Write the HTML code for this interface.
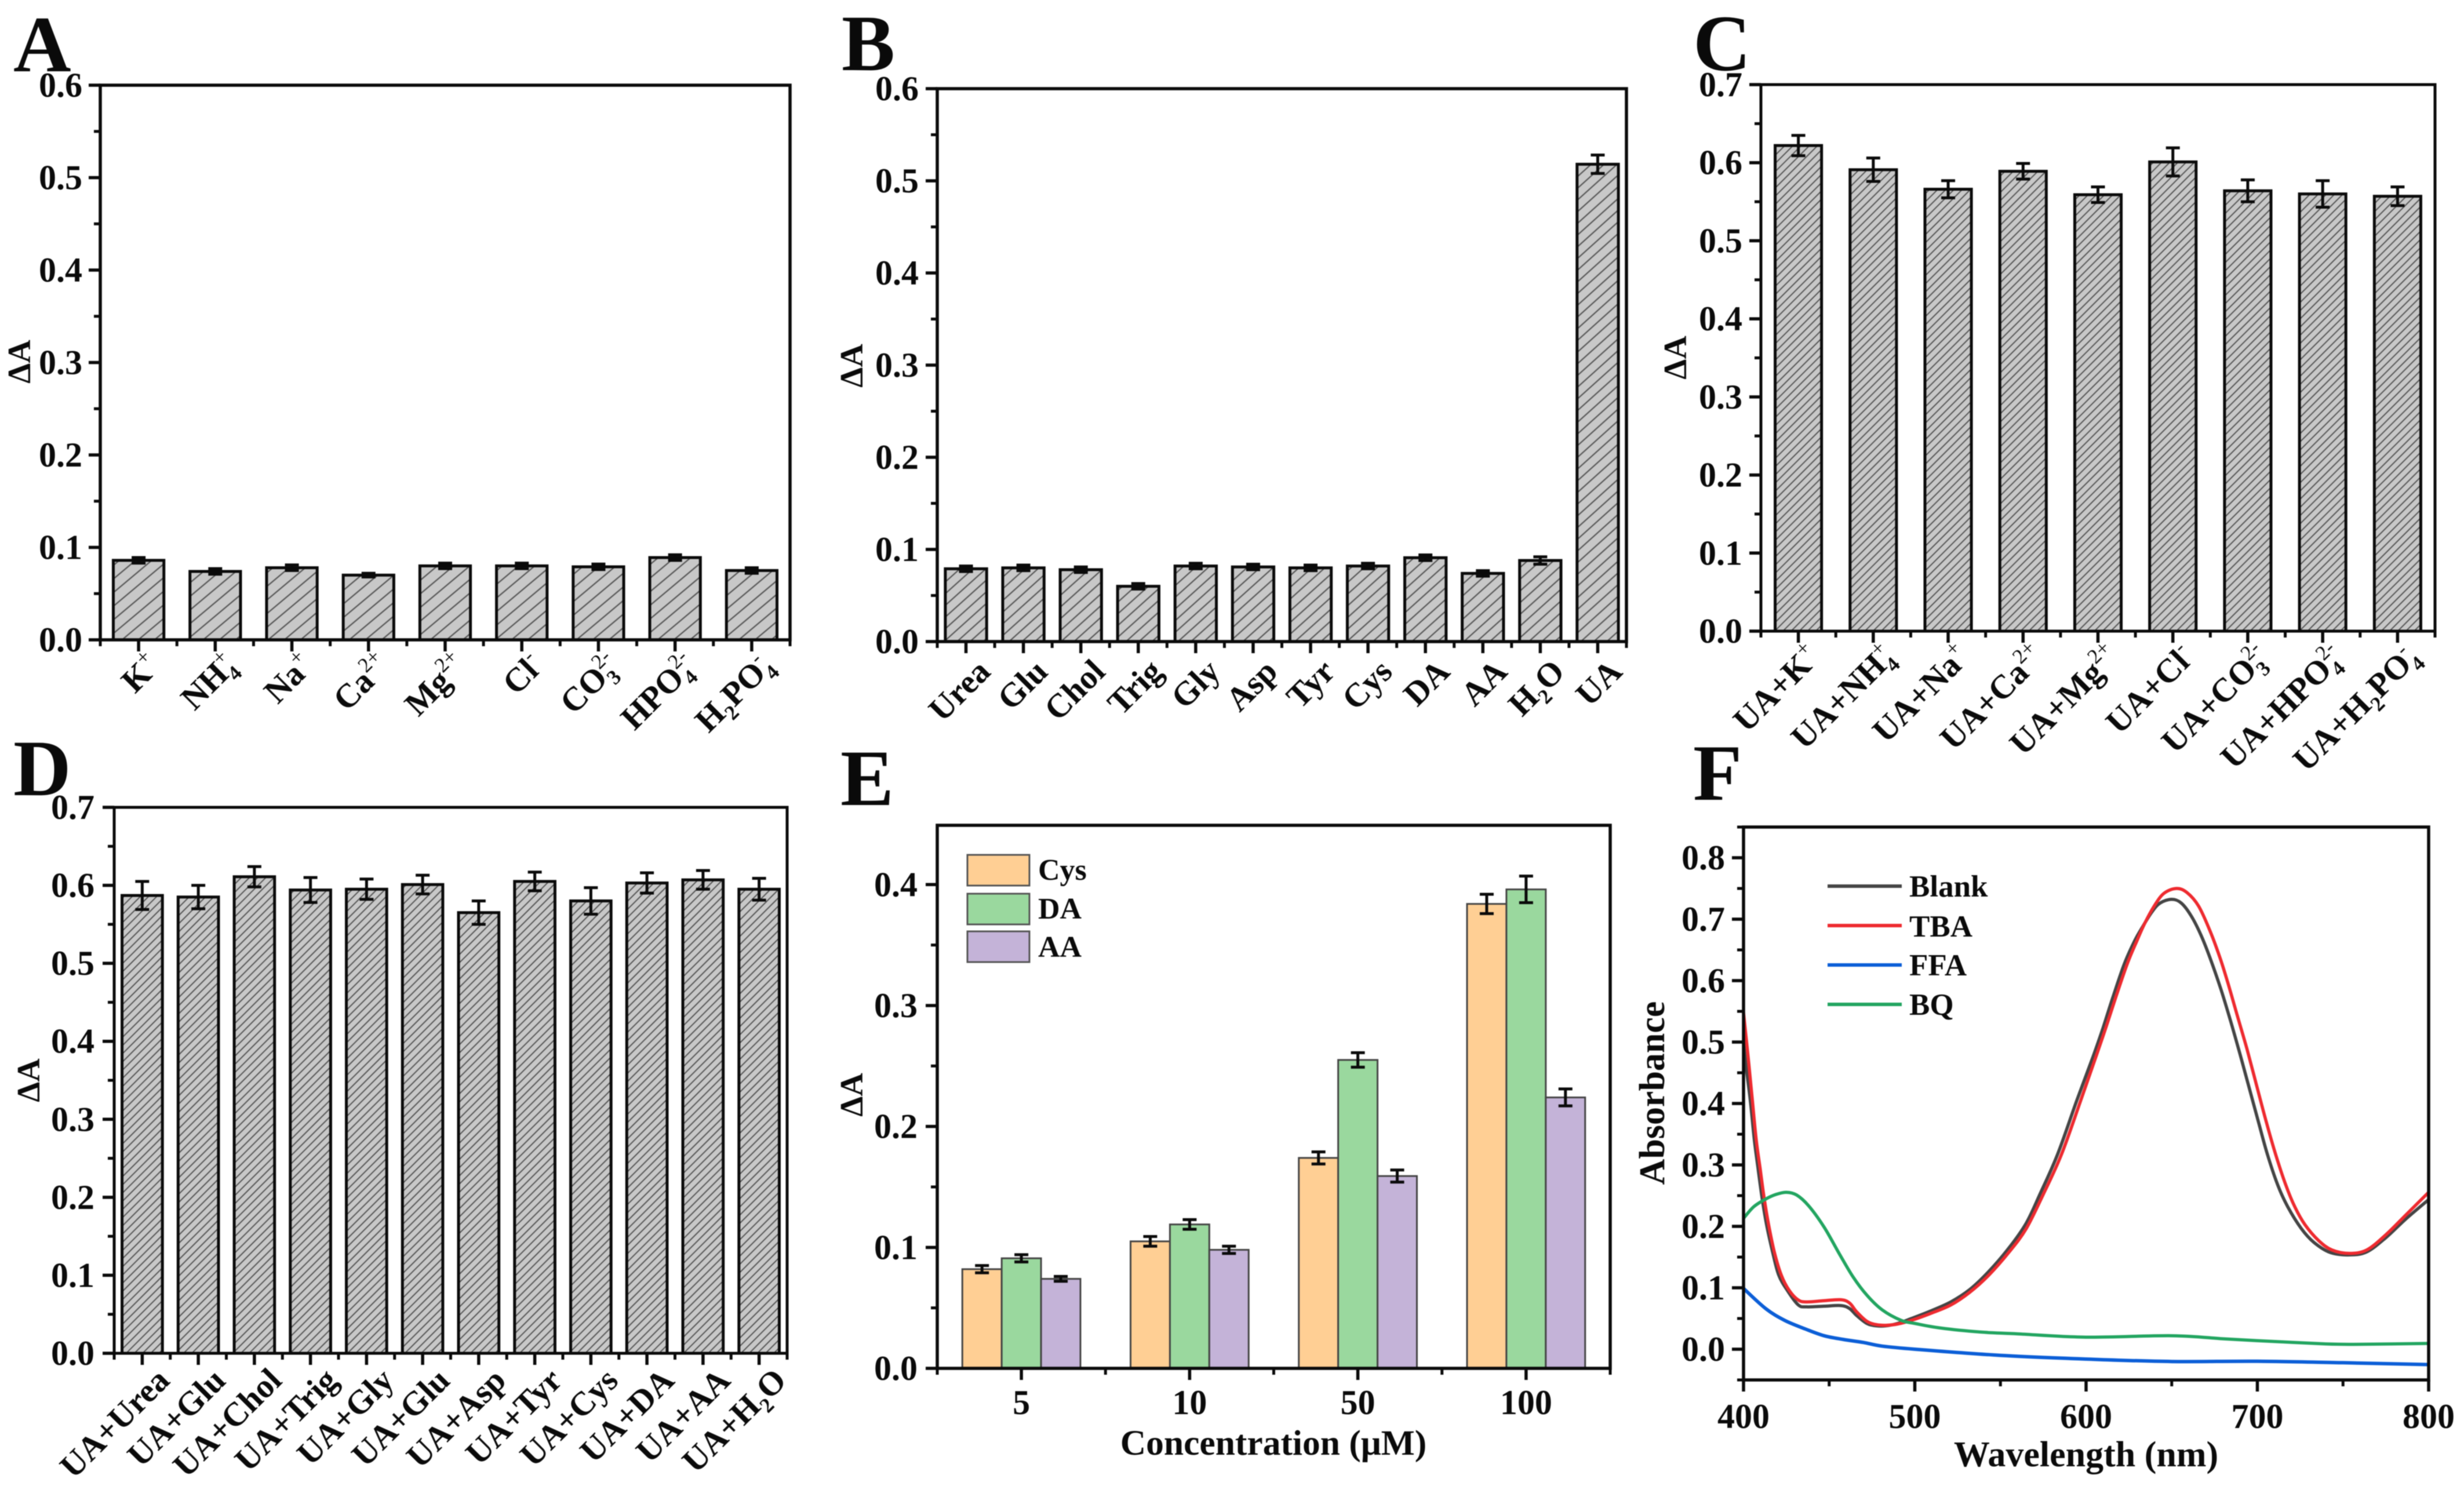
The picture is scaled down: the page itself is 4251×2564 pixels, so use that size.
<!DOCTYPE html>
<html lang="en">
<head>
<meta charset="utf-8">
<title>Selectivity and interference absorbance panels</title>
<style>
html,body{margin:0;padding:0;background:#fff;width:4251px;height:2564px;overflow:hidden}
svg{display:block;filter:blur(0.9px)}
text{font-family:"Liberation Serif",serif;font-weight:bold;fill:#0a0a0a}
</style>
</head>
<body>
<svg id="figure" xmlns="http://www.w3.org/2000/svg" width="4251" height="2564" viewBox="0 0 4251 2564">
<defs>
<pattern id="hatch-wide" patternUnits="userSpaceOnUse" width="18" height="18" patternTransform="rotate(-40)"><rect width="18" height="18" fill="#c8c8c8"/><line x1="0" y1="9" x2="18" y2="9" stroke="#555" stroke-width="2.2"/></pattern>
<pattern id="hatch-mid" patternUnits="userSpaceOnUse" width="15" height="15" patternTransform="rotate(-42)"><rect width="15" height="15" fill="#c8c8c8"/><line x1="0" y1="7.5" x2="15" y2="7.5" stroke="#555" stroke-width="2.2"/></pattern>
<pattern id="hatch-dense" patternUnits="userSpaceOnUse" width="10" height="10" patternTransform="rotate(-45)"><rect width="10" height="10" fill="#c8c8c8"/><line x1="0" y1="5" x2="10" y2="5" stroke="#555" stroke-width="2"/></pattern>
</defs>
<rect width="4251" height="2564" fill="#fff"/>

<text x="23" y="123" font-size="138">A</text>
<text x="1452" y="121" font-size="138">B</text>
<text x="2921" y="121" font-size="138">C</text>
<text x="23" y="1372" font-size="138">D</text>
<text x="1450" y="1389" font-size="138">E</text>
<text x="2921" y="1380" font-size="138">F</text>

<text font-size="56" text-anchor="middle" transform="translate(52 624) rotate(-90)">ΔA</text>
<text font-size="56" text-anchor="middle" transform="translate(1488 631) rotate(-90)">ΔA</text>
<text font-size="56" text-anchor="middle" transform="translate(2909 617) rotate(-90)">ΔA</text>
<text font-size="56" text-anchor="middle" transform="translate(68 1864) rotate(-90)">ΔA</text>
<text font-size="56" text-anchor="middle" transform="translate(1488 1889) rotate(-90)">ΔA</text>
<text font-size="62" text-anchor="middle" transform="translate(2871 1886) rotate(-90)">Absorbance</text>
<text font-size="61.5" text-anchor="middle" x="2197" y="2510">Concentration (μM)</text>
<text font-size="62" text-anchor="middle" x="3599" y="2530">Wavelength (nm)</text>

<g id="panel-a"></g>
<g id="panel-b"></g>
<g id="panel-c"></g>
<g id="panel-d"></g>
<g id="panel-e"></g>
<g id="panel-f"></g>

<g>
<g><rect x="1669" y="1475" width="107" height="53" fill="#FFCF94" stroke="#555" stroke-width="3"/><text x="1791" y="1518" font-size="52">Cys</text></g>
<g><rect x="1669" y="1542" width="107" height="53" fill="#9AD89E" stroke="#555" stroke-width="3"/><text x="1791" y="1585" font-size="52">DA</text></g>
<g><rect x="1669" y="1607" width="107" height="53" fill="#C4B3D8" stroke="#555" stroke-width="3"/><text x="1791" y="1651" font-size="52">AA</text></g>
</g>
<g>
<g><line x1="3153" x2="3281" y1="1529" y2="1529" stroke="#444" stroke-width="6"/><text x="3294" y="1547" font-size="53">Blank</text></g>
<g><line x1="3153" x2="3281" y1="1597" y2="1597" stroke="#EE2A2F" stroke-width="6"/><text x="3294" y="1616" font-size="53">TBA</text></g>
<g><line x1="3153" x2="3281" y1="1665" y2="1665" stroke="#0B5ED7" stroke-width="6"/><text x="3294" y="1683" font-size="53">FFA</text></g>
<g><line x1="3153" x2="3281" y1="1733" y2="1733" stroke="#22A560" stroke-width="6"/><text x="3294" y="1751" font-size="53">BQ</text></g>
</g>
</svg>

<script>
// Panel A
const ionLabels = ['K{|+}','NH{4|+}','Na{|+}','Ca{|2+}','Mg{|2+}','Cl{|-}','CO{3|2-}','HPO{4|2-}','H{2|}PO{4|-}'];
const aValues = [0.086,0.074,0.078,0.070,0.080,0.080,0.079,0.089,0.075];
const aErrors = [0.003,0.003,0.003,0.002,0.003,0.003,0.003,0.003,0.003];
const aTicks = [0,0.1,0.2,0.3,0.4,0.5,0.6];
// Panel B
const bioLabels = ['Urea','Glu','Chol','Trig','Gly','Asp','Tyr','Cys','DA','AA','H{2|}O','UA'];
const bValues = [0.079,0.080,0.078,0.060,0.082,0.081,0.080,0.082,0.091,0.074,0.088,0.518];
const bErrors = [0.003,0.003,0.003,0.003,0.003,0.003,0.003,0.003,0.003,0.003,0.004,0.010];
const bTicks = [0,0.1,0.2,0.3,0.4,0.5,0.6];
// Panel C
const uaIonLabels = ['UA+K{|+}','UA+NH{4|+}','UA+Na{|+}','UA+Ca{|2+}','UA+Mg{|2+}','UA+Cl{|-}','UA+CO{3|2-}','UA+HPO{4|2-}','UA+H{2|}PO{4|-}'];
const cValues = [0.622,0.591,0.566,0.589,0.559,0.601,0.564,0.560,0.557];
const cErrors = [0.013,0.015,0.011,0.010,0.010,0.018,0.014,0.017,0.012];
const cTicks = [0,0.1,0.2,0.3,0.4,0.5,0.6,0.7];
// Panel D
const uaBioLabels = ['UA+Urea','UA+Glu','UA+Chol','UA+Trig','UA+Gly','UA+Glu','UA+Asp','UA+Tyr','UA+Cys','UA+DA','UA+AA','UA+H{2|}O'];
const dValues = [0.587,0.585,0.611,0.594,0.595,0.601,0.565,0.605,0.580,0.603,0.607,0.595];
const dErrors = [0.018,0.015,0.013,0.016,0.013,0.012,0.015,0.012,0.017,0.013,0.012,0.014];
const dTicks = [0,0.1,0.2,0.3,0.4,0.5,0.6,0.7];
// Panel E
const concLabels = ['5','10','50','100'];
const cysValues = [0.082,0.105,0.174,0.384];
const cysErrors = [0.003,0.004,0.005,0.008];
const daValues = [0.091,0.119,0.255,0.396];
const daErrors = [0.003,0.004,0.006,0.011];
const aaValues = [0.074,0.098,0.159,0.224];
const aaErrors = [0.002,0.003,0.005,0.007];
const eTicks = [0,0.1,0.2,0.3,0.4];
// Panel F
const fXTicks = [400,500,600,700,800];
const fYTicks = [0,0.1,0.2,0.3,0.4,0.5,0.6,0.7,0.8];
const blankNm = [400,401.5,404,406.3,408.5,410.8,413.5,417,420.5,425.5,432,437,447,457,462,466,472,477.6,483,490,498,509,521,532,543,555,565,573,583.4,594.6,604.3,610,615.6,622.3,628.4,633.5,638.6,643.3,650,655.5,661.3,667,672.5,678.7,684.5,689.5,694.7,701,706,712,717.7,725.5,733,742.5,753.7,763.9,775.2,786.5,800];
const blankAbs = [0.5,0.46,0.404,0.341,0.294,0.2467,0.202,0.158,0.121,0.096,0.072,0.069,0.07,0.071,0.066,0.055,0.042,0.038,0.038,0.042,0.05,0.062,0.077,0.097,0.126,0.165,0.205,0.252,0.3175,0.405,0.478,0.524,0.5725,0.627,0.665,0.69,0.7125,0.7264,0.7324,0.7264,0.7057,0.6745,0.636,0.586,0.533,0.484,0.431,0.366,0.316,0.2665,0.232,0.197,0.174,0.1575,0.1535,0.1585,0.182,0.2115,0.2436];
const tbaNm = [400,403,405.2,407.4,409.7,412,414.7,418,422,426.6,432,437,447,457,462,466,472,477.6,483,490,498,509,521,532,543,555,565,575,585.7,596.9,606,611.6,617.3,624,629.7,634.2,639.8,645.4,652.8,658.9,665.7,672.5,678.2,682.6,688.3,694,699.6,705.2,710.9,716.5,722,727.8,735.7,743.5,753.7,763.9,775.2,786.5,800];
const tbaAbs = [0.548,0.467,0.404,0.341,0.294,0.2467,0.202,0.158,0.121,0.096,0.08,0.077,0.079,0.0806,0.075,0.061,0.0455,0.04,0.039,0.041,0.047,0.058,0.072,0.0925,0.12,0.158,0.196,0.252,0.3175,0.405,0.478,0.524,0.5725,0.627,0.665,0.693,0.7215,0.742,0.75,0.7434,0.7213,0.68,0.637,0.598,0.543,0.488,0.429,0.37,0.315,0.268,0.231,0.2027,0.177,0.1616,0.156,0.1616,0.1868,0.218,0.2555];
const ffaNm = [400,413,424,436,447,458,470,481,500,550,600,650,700,750,800];
const ffaAbs = [0.099,0.066,0.047,0.033,0.022,0.016,0.011,0.005,0,-0.01,-0.016,-0.02,-0.0196,-0.022,-0.025];
const bqNm = [400,406,413,419,425,431,438,447,456,464,472,481,492,500,515,538,560,600,650,680,700,740,760,800];
const bqAbs = [0.213,0.232,0.2445,0.252,0.2555,0.251,0.2335,0.199,0.155,0.1175,0.088,0.064,0.047,0.042,0.0345,0.028,0.025,0.0196,0.022,0.017,0.014,0.0086,0.008,0.0094];

const NS = 'http://www.w3.org/2000/svg';
function mk(tag, parent) {
  const el = document.createElementNS(NS, tag);
  parent.appendChild(el);
  return el;
}
function setAll(el, props) {
  for (const k in props) el.setAttribute(k, props[k]);
}
function seg(parent, x1, y1, x2, y2, w, color) {
  const l = mk('line', parent);
  setAll(l, {x1: x1, y1: y1, x2: x2, y2: y2, stroke: color || '#0a0a0a', 'stroke-width': w});
  return l;
}

function richLabel(t, label) {
  const re = /([^{]+)|\{([^|}]*)\|([^}]*)\}/g;
  let m, shift = 0;
  while ((m = re.exec(label))) {
    if (m[1]) {
      const s = mk('tspan', t);
      s.textContent = m[1];
      s.setAttribute('dy', -shift);
      shift = 0;
    } else {
      const sub = m[2], sup = m[3];
      if (sub) {
        const s = mk('tspan', t);
        s.textContent = sub;
        setAll(s, {'font-size': 36, dy: 14 - shift});
        shift = 14;
      }
      if (sup) {
        const s = mk('tspan', t);
        s.textContent = sup;
        setAll(s, {'font-size': 36, 'font-weight': 'normal', dy: -24 - shift});
        if (sub) s.setAttribute('dx', -18 * sub.length);
        shift = -24;
      }
    }
  }
}

function drawAxes(g, p) {
  const ys = p.yScale;
  const w = p.axisWidth;
  const frame = mk('rect', g);
  
  
  setAll(frame, {x: p.x0, y: p.y0, width: p.x1 - p.x0, height: p.y1 - p.y0, fill: 'none', stroke: '#0a0a0a', 'stroke-width': w});
  p.yTicks.forEach(function (v, i) {
    const tick = seg(g, p.x0, ys(v), p.x0 - 20, ys(v), 5.5);
    
    
    const lab = mk('text', g);
    
    
    setAll(lab, {x: p.x0 - p.labelGap, y: ys(v) + 20, 'font-size': 60, 'text-anchor': 'end'});
    lab.textContent = v.toFixed(1);
    const next = p.yTicks[i + 1];
    const minorVal = next !== undefined ? (v + next) / 2 : v + (v - p.yTicks[i - 1]) / 2;
    if (ys(minorVal) >= p.y0 - 1) {
      const mt = seg(g, p.x0, ys(minorVal), p.x0 - 11, ys(minorVal), 5);
      
      
    }
    if (i === 0 && p.yBelow) {
      const mb = seg(g, p.x0, ys(v - (next - v) / 2), p.x0 - 11, ys(v - (next - v) / 2), 5);
      
      
    }
  });
}

function drawCategoryAxis(g, p, labels) {
  const band = (p.x1 - p.x0) / labels.length;
  labels.forEach(function (lab, i) {
    const cx = p.x0 + band * (i + 0.5);
    const t = seg(g, cx, p.y1, cx, p.y1 + 20, 5.5);
    
    
    const edge = seg(g, p.x0 + band * i, p.y1, p.x0 + band * i, p.y1 + 11, 5);
    
    
    const text = mk('text', g);
    
    
    if (p.rotate) {
      const ax = cx + p.labelDx, ay = p.y1 + p.labelDy;
      setAll(text, {'font-size': 58, 'text-anchor': 'end', transform: 'translate(' + ax + ' ' + ay + ') rotate(-45)'});
      richLabel(text, lab);
    } else {
      setAll(text, {x: cx, y: p.y1 + 79, 'font-size': 60, 'text-anchor': 'middle'});
      text.textContent = lab;
    }
  });
  const last = seg(g, p.x1, p.y1, p.x1, p.y1 + 11, 5);
  
  
}

function drawErrorBar(g, cx, y0, y1, capW, w) {
  const eb = mk('g', g);
  
  
  seg(eb, cx, y0, cx, y1, w);
  seg(eb, cx - capW / 2, y0, cx + capW / 2, y0, w);
  seg(eb, cx - capW / 2, y1, cx + capW / 2, y1, w);
}

function hatchPanel(id, p, labels, values, errors) {
  const g = document.getElementById(id);
  p.yScale = function (v) { return p.y1 - (v / p.yMax) * (p.y1 - p.y0); };
  const band = (p.x1 - p.x0) / labels.length;
  values.forEach(function (v, i) {
    const cx = p.x0 + band * (i + 0.5);
    const bw = band * p.barFrac;
    const bar = mk('rect', g);
    
    
    setAll(bar, {x: cx - bw / 2, y: p.yScale(v), width: bw, height: p.y1 - p.yScale(v), fill: 'url(#' + p.hatch + ')', stroke: '#0a0a0a', 'stroke-width': 5});
    drawErrorBar(g, cx, p.yScale(v + errors[i]), p.yScale(v - errors[i]), 24, 5);
  });
  drawAxes(g, p);
  drawCategoryAxis(g, p, labels);
}

hatchPanel('panel-a', {x0: 173, x1: 1363, y0: 147, y1: 1104, yMax: 0.6, yTicks: aTicks, axisWidth: 5.5, labelGap: 31, barFrac: 0.66, hatch: 'hatch-wide', rotate: true, labelDx: 40, labelDy: 48}, ionLabels, aValues, aErrors);
hatchPanel('panel-b', {x0: 1617, x1: 2806, y0: 153, y1: 1107, yMax: 0.6, yTicks: bTicks, axisWidth: 5.5, labelGap: 32, barFrac: 0.72, hatch: 'hatch-mid', rotate: true, labelDx: 45, labelDy: 55}, bioLabels, bValues, bErrors);
hatchPanel('panel-c', {x0: 3038, x1: 4201, y0: 146, y1: 1089, yMax: 0.7, yTicks: cTicks, axisWidth: 5, labelGap: 32, barFrac: 0.62, hatch: 'hatch-dense', rotate: true, labelDx: 40, labelDy: 48}, uaIonLabels, cValues, cErrors);
hatchPanel('panel-d', {x0: 197, x1: 1358, y0: 1393, y1: 2335, yMax: 0.7, yTicks: dTicks, axisWidth: 5, labelGap: 34, barFrac: 0.72, hatch: 'hatch-dense', rotate: true, labelDx: 50, labelDy: 50}, uaBioLabels, dValues, dErrors);

(function () {
  const g = document.getElementById('panel-e');
  const p = {x0: 1617, x1: 2778, y0: 1424, y1: 2361, yMax: 0.449, yTicks: eTicks, axisWidth: 5.5, labelGap: 34, rotate: false};
  p.yScale = function (v) { return p.y1 - (v / p.yMax) * (p.y1 - p.y0); };
  const band = (p.x1 - p.x0) / concLabels.length;
  const barW = band * 0.234;
  const groups = [
    {vals: cysValues, errs: cysErrors, color: '#FFCF94', off: -1},
    {vals: daValues, errs: daErrors, color: '#9AD89E', off: 0},
    {vals: aaValues, errs: aaErrors, color: '#C4B3D8', off: 1}
  ];
  groups.forEach(function (s) {
    s.vals.forEach(function (v, i) {
      const cx = p.x0 + band * (i + 0.5) + s.off * barW;
      const bar = mk('rect', g);
      
      
      setAll(bar, {x: cx - barW / 2, y: p.yScale(v), width: barW, height: p.y1 - p.yScale(v), fill: s.color, stroke: '#444', 'stroke-width': 3});
    });
  });
  groups.forEach(function (s) {
    s.vals.forEach(function (v, i) {
      const cx = p.x0 + band * (i + 0.5) + s.off * barW;
      drawErrorBar(g, cx, p.yScale(v + s.errs[i]), p.yScale(v - s.errs[i]), 24, 5);
    });
  });
  drawAxes(g, p);
  drawCategoryAxis(g, p, concLabels);
})();

(function () {
  const g = document.getElementById('panel-f');
  const p = {x0: 3008, x1: 4190, y0: 1427, y1: 2381, axisWidth: 5.5, labelGap: 32, yTicks: fYTicks, yBelow: true};
  const xMin = 400, xMax = 800, yMin = -0.05, yMax = 0.85;
  p.xScale = function (x) { return p.x0 + (x - xMin) / (xMax - xMin) * (p.x1 - p.x0); };
  p.yScale = function (v) { return p.y1 - (v - yMin) / (yMax - yMin) * (p.y1 - p.y0); };
  function curvePath(xsData, ysData) {
    const pts = xsData.map(function (x, i) { return [p.xScale(x), p.yScale(ysData[i])]; });
    let d = 'M' + pts[0][0].toFixed(1) + ' ' + pts[0][1].toFixed(1);
    for (let i = 0; i < pts.length - 1; i++) {
      const a = pts[Math.max(i - 1, 0)], b = pts[i], c = pts[i + 1], e = pts[Math.min(i + 2, pts.length - 1)];
      const k = 1 / 6;
      d += 'C' + (b[0] + (c[0] - a[0]) * k).toFixed(1) + ' ' + (b[1] + (c[1] - a[1]) * k).toFixed(1) + ' ' +
           (c[0] - (e[0] - b[0]) * k).toFixed(1) + ' ' + (c[1] - (e[1] - b[1]) * k).toFixed(1) + ' ' +
           c[0].toFixed(1) + ' ' + c[1].toFixed(1);
    }
    return d;
  }
  const blank = mk('path', g);
  
  
  setAll(blank, {d: curvePath(blankNm, blankAbs), fill: 'none', stroke: '#444', 'stroke-width': 5.5});
  const tba = mk('path', g);
  
  
  setAll(tba, {d: curvePath(tbaNm, tbaAbs), fill: 'none', stroke: '#EE2A2F', 'stroke-width': 5.5});
  const ffa = mk('path', g);
  
  
  setAll(ffa, {d: curvePath(ffaNm, ffaAbs), fill: 'none', stroke: '#0B5ED7', 'stroke-width': 6});
  const bq = mk('path', g);
  
  
  setAll(bq, {d: curvePath(bqNm, bqAbs), fill: 'none', stroke: '#22A560', 'stroke-width': 5.5});
  drawAxes(g, p);
  fXTicks.forEach(function (x, i) {
    const t = seg(g, p.xScale(x), p.y1, p.xScale(x), p.y1 + 20, 5.5);
    
    
    const lab = mk('text', g);
    
    
    setAll(lab, {x: p.xScale(x), y: 2464, 'font-size': 60, 'text-anchor': 'middle'});
    lab.textContent = String(x);
    if (i < fXTicks.length - 1) {
      const mid = (x + fXTicks[i + 1]) / 2;
      const mt = seg(g, p.xScale(mid), p.y1, p.xScale(mid), p.y1 + 11, 5);
      
      
    }
  });
})();
</script>
</body>
</html>
